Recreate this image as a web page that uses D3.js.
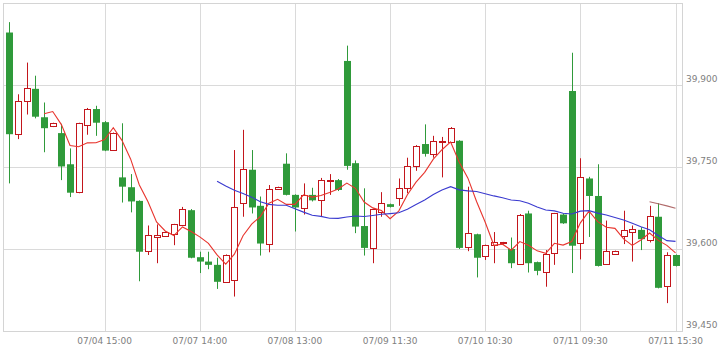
<!DOCTYPE html>
<html>
<head>
<meta charset="utf-8">
<script src="https://cdn.jsdelivr.net/npm/d3@7"></script>
<style>
  body { margin: 0; background: #fff; }
  text { font-family: "DejaVu Sans", sans-serif; font-size: 9px; fill: #808080; }
</style>
</head>
<body>
<div id="wrapper"></div>
<script>
// 30-minute bars, 13 per trading day
const days = ["07/04", "07/07", "07/08", "07/09", "07/10", "07/11"];
const sessionTimes = ["09:00", "09:30", "10:00", "10:30", "11:00", "11:30", "12:30",
  "13:00", "13:30", "14:00", "14:30", "15:00", "15:30"];

const openValues = [
  39996, 39810, 39870, 39893, 39841, 39824, 39812, 39755, 39703, 39828, 39856, 39832, 39781,
  39731, 39713, 39688, 39597, 39623, 39623, 39626, 39645, 39671, 39585, 39577, 39571, 39540,
  39542, 39684, 39745, 39679, 39610, 39709, 39756, 39699, 39674, 39699, 39690, 39725, 39726,
  39944, 39757, 39642, 39602, 39668, 39682, 39693, 39711, 39751, 39792, 39775, 39796, 39796,
  39798, 39603, 39627, 39587, 39606, 39610, 39600, 39574, 39665, 39576, 39557, 39592, 39663,
  39889, 39610, 39729, 39697, 39572, 39590, 39624, 39632, 39635, 39616, 39659, 39533, 39589
];
const highValues = [
  40015, 39883, 39941, 39917, 39868, 39831, 39829, 39784, 39831, 39858, 39862, 39834, 39813,
  39830, 39737, 39689, 39643, 39645, 39632, 39646, 39677, 39673, 39595, 39595, 39584, 39590,
  39781, 39818, 39781, 39696, 39717, 39714, 39775, 39700, 39720, 39712, 39730, 39737, 39728,
  39972, 39762, 39711, 39674, 39704, 39683, 39729, 39767, 39790, 39828, 39807, 39805, 39823,
  39799, 39714, 39628, 39608, 39631, 39613, 39621, 39664, 39670, 39577, 39598, 39666, 39665,
  39959, 39766, 39732, 39755, 39652, 39597, 39670, 39643, 39640, 39679, 39684, 39594, 39590
];
const lowValues = [
  39720, 39801, 39846, 39839, 39777, 39823, 39726, 39695, 39702, 39809, 39807, 39779, 39780,
  39685, 39667, 39541, 39589, 39574, 39622, 39607, 39644, 39583, 39556, 39563, 39527, 39539,
  39513, 39659, 39665, 39588, 39594, 39708, 39698, 39632, 39663, 39687, 39659, 39699, 39706,
  39745, 39629, 39588, 39574, 39659, 39676, 39679, 39702, 39743, 39769, 39767, 39731, 39795,
  39600, 39596, 39548, 39580, 39574, 39608, 39565, 39573, 39557, 39552, 39531, 39571, 39646,
  39556, 39581, 39622, 39568, 39571, 39589, 39609, 39577, 39598, 39612, 39528, 39501, 39568
];
const closeValues = [
  39810, 39870, 39894, 39842, 39821, 39830, 39751, 39703, 39830, 39857, 39831, 39780, 39812,
  39714, 39687, 39595, 39626, 39626, 39631, 39645, 39674, 39584, 39577, 39571, 39540, 39589,
  39676, 39746, 39676, 39610, 39710, 39713, 39699, 39676, 39698, 39689, 39727, 39727, 39708,
  39752, 39641, 39602, 39673, 39684, 39677, 39711, 39751, 39788, 39774, 39798, 39797, 39822,
  39602, 39629, 39584, 39607, 39612, 39612, 39574, 39663, 39574, 39560, 39590, 39665, 39647,
  39606, 39731, 39697, 39569, 39596, 39596, 39635, 39637, 39618, 39660, 39529, 39589, 39569
];

const maPeriods = [5, 25, 75];
const maColors = ["#e8352e", "#3a3acf", "#b06a6a"];

const yTicks = [39450, 39600, 39750, 39900];
const yDomain = [39450, 40050];
const xTickIndexes = [11, 22, 33, 44, 55, 66, 77];

const labels = days.flatMap(d => sessionTimes.map(t => `${d} ${t}`));
const bars = closeValues.map((c, i) => ({
  i,
  label: labels[i],
  open: openValues[i],
  high: highValues[i],
  low: lowValues[i],
  close: c,
}));

const width = 722;
const height = 351;
const plot = { left: 3, right: 682, top: 3, bottom: 331 };

const svg = d3.select("#wrapper")
  .append("svg")
    .attr("width", width)
    .attr("height", height);

const xScale = d3.scaleLinear()
  .domain([-0.75, bars.length - 0.25])
  .range([plot.left, plot.right]);
const yScale = d3.scaleLinear()
  .domain(yDomain)
  .range([plot.bottom, plot.top]);

const px = v => Math.round(v) + 0.5;

// Grid
const grid = svg.append("g");
grid.selectAll(".hgrid")
  .data(yTicks.slice(1))
  .join("line")
    .attr("x1", plot.left)
    .attr("x2", plot.right)
    .attr("y1", d => px(yScale(d)))
    .attr("y2", d => px(yScale(d)))
    .attr("stroke", "#dadada");
grid.selectAll(".vgrid")
  .data(xTickIndexes)
  .join("line")
    .attr("x1", d => px(xScale(d)))
    .attr("x2", d => px(xScale(d)))
    .attr("y1", plot.top)
    .attr("y2", plot.bottom)
    .attr("stroke", "#dadada");
svg.append("rect")
  .attr("x", plot.left + 0.5)
  .attr("y", plot.top + 0.5)
  .attr("width", plot.right - plot.left)
  .attr("height", plot.bottom - plot.top)
  .attr("fill", "none")
  .attr("stroke", "#d4d4d4");

// Axis labels
svg.append("g")
  .selectAll("text")
  .data(yTicks)
  .join("text")
    .attr("x", 686)
    .attr("y", d => yScale(d) - 3)
    .text(d => d3.format(",")(d));
svg.append("g")
  .selectAll("text")
  .data(xTickIndexes)
  .join("text")
    .attr("x", d => xScale(d))
    .attr("y", 344)
    .attr("text-anchor", "middle")
    .text(d => labels[d]);

// Candles
const upColor = "#c3161c";
const downColor = "#2f9a3a";
const candles = svg.append("g")
  .selectAll("g")
  .data(bars)
  .join("g");

candles.append("line")
  .attr("x1", d => px(xScale(d.i)))
  .attr("x2", d => px(xScale(d.i)))
  .attr("y1", d => yScale(d.high))
  .attr("y2", d => yScale(d.low))
  .attr("stroke", d => d.close >= d.open ? upColor : downColor);

candles.each(function(d) {
  const g = d3.select(this);
  const cx = px(xScale(d.i));
  const yTop = yScale(Math.max(d.open, d.close));
  const yBot = yScale(Math.min(d.open, d.close));
  if (d.close >= d.open) {
    g.append("rect")
      .attr("x", cx - 3)
      .attr("y", Math.round(yTop) + 0.5)
      .attr("width", 6)
      .attr("height", Math.max(1, Math.round(yBot - yTop)))
      .attr("fill", "#fff")
      .attr("stroke", upColor);
  } else {
    g.append("rect")
      .attr("x", cx - 3.5)
      .attr("y", yTop)
      .attr("width", 7)
      .attr("height", Math.max(1.5, yBot - yTop))
      .attr("fill", downColor);
  }
});

// Moving averages
const line = d3.line()
  .x(d => xScale(d.i))
  .y(d => yScale(d.value));

maPeriods.forEach((n, k) => {
  const ma = bars.slice(n - 1).map(d => ({
    i: d.i,
    value: d3.mean(closeValues.slice(d.i - n + 1, d.i + 1)),
  }));
  svg.append("path")
    .datum(ma)
    .attr("fill", "none")
    .attr("stroke", maColors[k])
    .attr("stroke-width", 1.1)
    .attr("d", line);
});
</script>
</body>
</html>
